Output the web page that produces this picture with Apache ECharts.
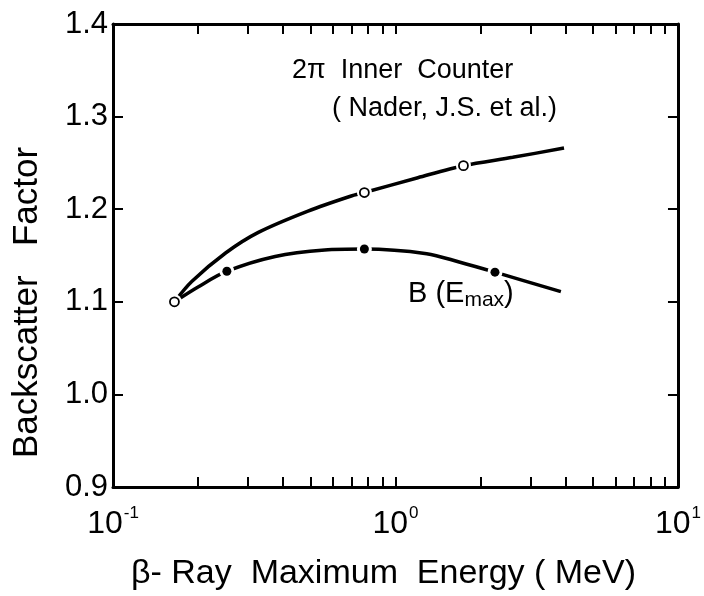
<!DOCTYPE html>
<html>
<head>
<meta charset="utf-8">
<script src="https://cdn.jsdelivr.net/npm/echarts@6/dist/echarts.min.js"></script>
<style>
html,body{margin:0;padding:0;background:#fff;}
#chart{width:704px;height:596px;}
</style>
</head>
<body>
<div id="chart"></div>
<script>
// 2π inner counter curve (Nader, J.S. et al.)
const innerX = [0.165, 0.19, 0.251, 0.327, 0.49, 0.693, 0.776, 1.2, 1.74, 2.6, 3.95];
const innerY = [1.100, 1.122, 1.153, 1.175, 1.198, 1.214, 1.218, 1.234, 1.247, 1.256, 1.266];
const innerMarkX = [0.165, 0.776, 1.74];
const innerMarkY = [1.100, 1.218, 1.247];
// B(Emax) curve
const bX = [0.165, 0.2, 0.253, 0.375, 0.562, 0.776, 1.29, 1.68, 2.25, 3.85];
const bY = [1.100, 1.116, 1.133, 1.149, 1.156, 1.157, 1.152, 1.143, 1.132, 1.111];
const bMarkX = [0.253, 0.776, 2.25];
const bMarkY = [1.133, 1.157, 1.132];
// axis ticks
const xMajorTicks = [0.1, 1, 10];
const xTicks = [0.1,0.2,0.3,0.4,0.5,0.6,0.7,0.8,0.9,1,2,3,4,5,6,7,8,9,10];
const yMin = 0.9, yMax = 1.4, yStep = 0.1;

const FONT = '"Liberation Sans", Arial, sans-serif';
const zip = (xs, ys) => xs.map((x, i) => [x, ys[i]]);

const chart = echarts.init(document.getElementById('chart'), null, {renderer: 'canvas'});
const axisLine = {lineStyle: {color: '#000', width: 3}};
const tick = {inside: true, length: 10, lineStyle: {color: '#000', width: 2}};

const option = {
  backgroundColor: '#fff',
  animation: false,
  grid: {left: 113, right: 20, top: 24, bottom: 107},
  xAxis: [{
    type: 'log', logBase: 10, min: 0.1, max: 10, position: 'bottom',
    axisLine: axisLine,
    axisTick: Object.assign({customValues: xTicks}, tick),
    splitLine: {show: false},
    axisLabel: {
      customValues: xMajorTicks,
      margin: 18,
      formatter: v => '{m|10}{e|' + Math.round(Math.log10(v)) + '}',
      rich: {
        m: {fontSize: 32, fontFamily: FONT, color: '#000'},
        e: {fontSize: 17, fontFamily: FONT, color: '#000', padding: [0, 0, 22, 1]}
      }
    },
    name: 'β- Ray  Maximum  Energy ( MeV)',
    nameLocation: 'middle', nameGap: 70,
    nameTextStyle: {fontSize: 34, fontFamily: FONT, color: '#000', padding: [0, 24, 0, 0]}
  }, {
    type: 'log', logBase: 10, min: 0.1, max: 10, position: 'top',
    axisLine: axisLine,
    axisTick: Object.assign({customValues: xTicks}, tick),
    splitLine: {show: false},
    axisLabel: {show: false}
  }],
  yAxis: [{
    type: 'value', min: yMin, max: yMax, interval: yStep, position: 'left',
    axisLine: axisLine, axisTick: tick, splitLine: {show: false},
    axisLabel: {formatter: v => v.toFixed(1), margin: 5, fontSize: 31, fontFamily: FONT, color: '#000'},
    name: 'Backscatter   Factor',
    nameLocation: 'middle', nameRotate: 90, nameGap: 68,
    nameTextStyle: {fontSize: 35, fontFamily: FONT, color: '#000', padding: [0, 94, 0, 0]}
  }, {
    type: 'value', min: yMin, max: yMax, interval: yStep, position: 'right',
    axisLine: axisLine, axisTick: tick, splitLine: {show: false},
    axisLabel: {show: false}
  }],
  series: [
    {type: 'line', data: zip(innerX, innerY), smooth: 0.3, showSymbol: false, z: 2,
     lineStyle: {color: '#000', width: 3.5}},
    {type: 'line', data: zip(bX, bY), smooth: 0.3, showSymbol: false, z: 2,
     lineStyle: {color: '#000', width: 3.5}},
    {type: 'scatter', data: zip(innerMarkX, innerMarkY).concat(zip(bMarkX, bMarkY)), symbolSize: 15, z: 3,
     itemStyle: {color: '#fff', opacity: 1}, silent: true},
    {type: 'scatter', data: zip(innerMarkX, innerMarkY), symbolSize: 9, z: 4,
     itemStyle: {color: '#fff', borderColor: '#000', borderWidth: 1.8, opacity: 1}},
    {type: 'scatter', data: zip(bMarkX, bMarkY), symbolSize: 9, z: 4,
     itemStyle: {color: '#000', opacity: 1}}
  ],
  graphic: [
    {type: 'text', left: 292, top: 57, z: 10,
     style: {text: '2π  Inner  Counter', font: '27px ' + FONT, fill: '#000'}},
    {type: 'text', left: 332, top: 95, z: 10,
     style: {text: '( Nader, J.S. et al.)', font: '27px ' + FONT, fill: '#000'}},
    {type: 'text', left: 408, top: 279, z: 10,
     style: {text: '{a|B (E}{s|max}{a|)}', rich: {
       a: {fontSize: 29, fontFamily: FONT, fill: '#000'},
       s: {fontSize: 21, fontFamily: FONT, fill: '#000', padding: [14, 0, 0, 0]}
     }}}
  ]
};
chart.setOption(option);
</script>
</body>
</html>
